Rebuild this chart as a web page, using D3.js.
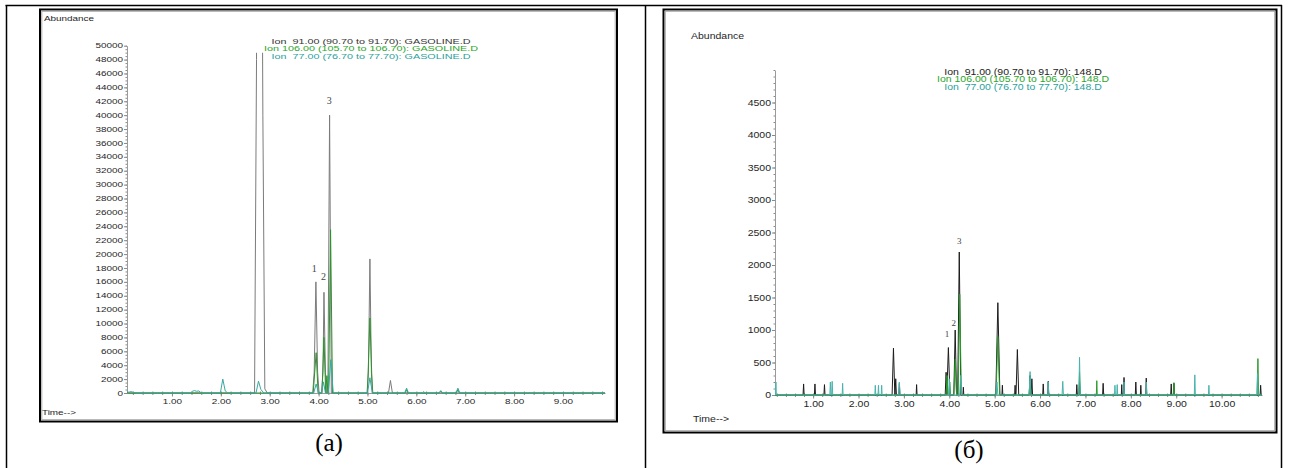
<!DOCTYPE html>
<html>
<head>
<meta charset="utf-8">
<script src="https://cdn.jsdelivr.net/npm/d3@7"></script>
<style>
  body { margin: 0; background: #fff; }
  svg { display: block; }
</style>
</head>
<body>
<svg width="1289" height="468"></svg>
<script>
// ---- data ----
// (a) GASOLINE.D, traces as [time, abundance] vertices
var leftTimeTicks = [1, 2, 3, 4, 5, 6, 7, 8, 9];
var leftAbundanceTicks = [0, 2000, 4000, 6000, 8000, 10000, 12000, 14000, 16000, 18000, 20000, 22000, 24000,
  26000, 28000, 30000, 32000, 34000, 36000, 38000, 40000, 42000, 44000, 46000, 48000, 50000];
var leftLegend = ["Ion  91.00 (90.70 to 91.70): GASOLINE.D",
  "Ion 106.00 (105.70 to 106.70): GASOLINE.D",
  "Ion  77.00 (76.70 to 77.70): GASOLINE.D"];
var leftIon91 = [
  [0.08, 0], [2.69, 0], [2.73, 48000], [2.74, 70000], [2.84, 70000], [2.86, 40000], [2.90, 600], [2.95, 0],
  [3.88, 0], [3.91, 3000], [3.945, 16000], [3.98, 3000], [4.01, 0],
  [4.06, 0], [4.09, 3000], [4.11, 14500], [4.14, 3000], [4.16, 0],
  [4.19, 0], [4.225, 40000], [4.26, 0],
  [4.99, 0], [5.02, 3000], [5.05, 19300], [5.08, 3000], [5.11, 0],
  [5.43, 0], [5.47, 1800], [5.51, 0], [9.86, 0]
];
var leftIon106 = [
  [0.08, 0], [3.89, 0], [3.95, 5800], [3.99, 0],
  [4.07, 0], [4.11, 8000], [4.145, 0], [4.17, 2500], [4.19, 0], [4.205, 0], [4.245, 23500], [4.285, 0],
  [5.00, 0], [5.05, 10800], [5.10, 0],
  [5.77, 0], [5.80, 500], [5.83, 0], [6.47, 0], [6.50, 250], [6.53, 0], [6.82, 0], [6.85, 500], [6.88, 0], [9.86, 0]
];
var leftIon77 = [
  [0.08, 350], [0.11, 100], [0.16, 200], [0.22, 80], [0.30, 0],
  [1.38, 0], [1.42, 250], [1.46, 350], [1.50, 250], [1.55, 300], [1.60, 0],
  [1.99, 0], [2.04, 2000], [2.09, 300], [2.14, 0],
  [2.72, 0], [2.77, 1700], [2.82, 500], [2.88, 0],
  [3.90, 0], [3.95, 1300], [4.00, 0], [4.06, 0], [4.10, 1600], [4.14, 0], [4.20, 0], [4.25, 4800], [4.30, 0],
  [5.00, 0], [5.05, 2200], [5.10, 0],
  [5.76, 0], [5.80, 700], [5.84, 0], [6.12, 0], [6.15, 200], [6.18, 0], [6.46, 0], [6.50, 350], [6.54, 0],
  [6.81, 0], [6.85, 700], [6.89, 0], [9.86, 0]
];
var leftPeakLabels = [["1", 3.91, 17400], ["2", 4.10, 16300], ["3", 4.22, 41600]];

// (б) 148.D, spikes as [time, abundance, half width]
var rightTimeTicks = [1, 2, 3, 4, 5, 6, 7, 8, 9, 10];
var rightAbundanceTicks = [0, 500, 1000, 1500, 2000, 2500, 3000, 3500, 4000, 4500];
var rightLegend = ["Ion  91.00 (90.70 to 91.70): 148.D",
  "Ion 106.00 (105.70 to 106.70): 148.D",
  "Ion  77.00 (76.70 to 77.70): 148.D"];
var rightIon91 = [
  [0.79, 170, 0.012], [1.04, 170, 0.012], [1.25, 160, 0.012], [2.77, 720, 0.03], [2.82, 250, 0.015],
  [2.90, 180, 0.012], [3.28, 160, 0.01], [3.93, 350, 0.02], [3.98, 730, 0.035], [4.13, 1000, 0.03],
  [4.22, 2200, 0.035], [4.31, 120, 0.01], [5.07, 1420, 0.045], [5.17, 150, 0.01], [5.45, 150, 0.01],
  [5.50, 700, 0.03], [5.78, 300, 0.02], [5.82, 250, 0.015], [6.07, 170, 0.012], [6.18, 210, 0.012],
  [6.81, 160, 0.012], [6.87, 200, 0.012], [7.39, 180, 0.012], [7.80, 160, 0.01], [7.85, 270, 0.012],
  [8.11, 200, 0.012], [8.22, 150, 0.01], [8.34, 260, 0.012], [8.89, 170, 0.012], [8.95, 180, 0.012],
  [10.86, 150, 0.012]
];
var rightIon106 = [
  [3.95, 300, 0.02], [4.01, 200, 0.015], [4.13, 550, 0.03], [4.23, 1550, 0.035], [5.07, 900, 0.04],
  [5.78, 280, 0.02], [6.87, 350, 0.015], [7.25, 220, 0.01], [8.95, 190, 0.012], [10.80, 560, 0.015]
];
var rightIon77 = [
  [0.18, 200, 0.01], [1.38, 200, 0.012], [1.42, 210, 0.012], [1.65, 180, 0.01], [2.37, 150, 0.01],
  [2.44, 150, 0.01], [2.51, 150, 0.01], [2.90, 200, 0.015], [4.00, 250, 0.015], [4.25, 300, 0.02],
  [5.05, 200, 0.02], [5.78, 360, 0.02], [6.18, 200, 0.012], [6.50, 210, 0.015], [6.87, 580, 0.015],
  [7.65, 150, 0.01], [7.70, 160, 0.01], [7.85, 200, 0.01], [8.34, 200, 0.01], [9.41, 310, 0.012],
  [9.72, 150, 0.01], [10.79, 330, 0.015]
];
var rightPeakLabels = [["1", 3.95, 900], ["2", 4.10, 1060], ["3", 4.22, 2320]];

main();

function main() {
  var svg = d3.select("svg");

  // table lines of the document
  var table = svg.append("g").attr("stroke", "#000").attr("stroke-width", 1.5);
  table.append("line").attr("x1", 5.5).attr("x2", 1282).attr("y1", 5.5).attr("y2", 5.5);
  table.append("line").attr("x1", 6.5).attr("x2", 6.5).attr("y1", 5).attr("y2", 468);
  table.append("line").attr("x1", 645.5).attr("x2", 645.5).attr("y1", 5).attr("y2", 468);
  table.append("line").attr("x1", 1281.5).attr("x2", 1281.5).attr("y1", 5).attr("y2", 468);

  drawPanel(svg, {
    frame: [40, 9.5, 577, 412],
    xDomain: [0.08, 9.86], xRange: [127, 605],
    yDomain: [0, 50000], yRange: [393, 45.7],
    clipTop: 49000,
    xTicks: leftTimeTicks, yTicks: leftAbundanceTicks,
    xMinor: 0.2, yMinor: 500,
    font: "Liberation Sans, Arial, sans-serif", fontSize: 6.6, sx: 1.5,
    abundance: [44, 21], time: [42, 415],
    legend: leftLegend, legendX: 371, legendY: 44, legendStep: 7.4, legendSize: 7.2,
    colors: ["#7b7b7b", "#2d932d", "#3aa8a2"],
    legendColors: ["#333", "#2aa52a", "#2a9f9c"],
    traces: [leftIon91, leftIon106, leftIon77],
    peakLabels: leftPeakLabels, peakSize: 10,
    caption: "(a)", captionX: 329, captionY: 451
  });

  drawPanel(svg, {
    frame: [663.5, 9.5, 613, 423],
    xDomain: [0.16, 10.89], xRange: [775, 1262],
    yDomain: [0, 5000], yRange: [395, 70],
    xTicks: rightTimeTicks, yTicks: rightAbundanceTicks,
    xMinor: 0.2, yMinor: 100,
    font: "Liberation Sans, Arial, sans-serif", fontSize: 8.4, sx: 1.25,
    abundance: [691, 39], time: [693, 422],
    legend: rightLegend, legendX: 1023, legendY: 74.5, legendStep: 7.6, legendSize: 8.4,
    colors: ["#1c1c1c", "#2a9a2a", "#48b3ac"],
    legendColors: ["#222", "#2aa52a", "#2a9f9c"],
    traces: [spikes(rightIon91), spikes(rightIon106), spikes(rightIon77)],
    peakLabels: rightPeakLabels, peakSize: 9,
    caption: "(б)", captionX: 969, captionY: 458
  });
}

// turn [time, height, half width] spikes into a baseline trace
function spikes(peaks) {
  var pts = [[0.16, 0]];
  peaks.forEach(function(p) {
    pts.push([p[0] - p[2], 0], [p[0], p[1]], [p[0] + p[2], 0]);
  });
  pts.push([10.89, 0]);
  return pts;
}

function drawPanel(svg, p) {
  var g = svg.append("g");
  var f = p.frame;
  g.append("rect").attr("x", f[0]).attr("y", f[1]).attr("width", f[2]).attr("height", f[3])
    .attr("fill", "none").attr("stroke", "#000").attr("stroke-width", 2);
  g.append("rect").attr("x", f[0] + 1.8).attr("y", f[1] + 1.8).attr("width", f[2] - 3.6).attr("height", f[3] - 3.6)
    .attr("fill", "none").attr("stroke", "#a8a8a8").attr("stroke-width", 1);

  var x = d3.scaleLinear().domain(p.xDomain).range(p.xRange);
  var y = d3.scaleLinear().domain(p.yDomain).range(p.yRange);

  function txt(sel) {
    return sel.style("font-family", p.font).style("font-size", p.fontSize + "px").attr("fill", "#262626");
  }

  // y axis
  var yMinor = d3.range(p.yDomain[0], p.yDomain[1] + 1, p.yMinor);
  g.append("g").attr("transform", "translate(" + p.xRange[0] + ",0)")
    .call(d3.axisLeft(y).tickValues(yMinor).tickSize(1.5).tickSizeOuter(0).tickFormat(""))
    .call(gray);
  var ya = g.append("g").attr("transform", "translate(" + p.xRange[0] + ",0)")
    .call(d3.axisLeft(y).tickValues(p.yTicks).tickSize(3).tickSizeOuter(0).tickFormat(d3.format("d")))
    .call(gray);
  ya.select(".domain").remove();
  ya.selectAll("text").call(txt)
    .attr("x", -4 / p.sx).attr("transform", "scale(" + p.sx + ",1)");

  // x axis
  var xMinor = d3.range(Math.ceil(p.xDomain[0] / p.xMinor) * p.xMinor, p.xDomain[1], p.xMinor);
  g.append("g").attr("transform", "translate(0," + p.yRange[0] + ")")
    .call(d3.axisBottom(x).tickValues(xMinor).tickSize(2).tickSizeOuter(0).tickFormat(""))
    .call(gray);
  g.append("g").attr("transform", "translate(0," + p.yRange[0] + ")")
    .call(d3.axisTop(x).tickValues(xMinor).tickSize(1.5).tickSizeOuter(0).tickFormat(""))
    .call(gray).select(".domain").remove();
  var xa = g.append("g").attr("transform", "translate(0," + p.yRange[0] + ")")
    .call(d3.axisBottom(x).tickValues(p.xTicks).tickSize(3.5).tickSizeOuter(0).tickFormat(d3.format(".2f")))
    .call(gray);
  xa.select(".domain").remove();
  xa.selectAll("text").call(txt).attr("y", 6).attr("x", 0)
    .attr("transform", "scale(" + p.sx + ",1)");

  // traces, clipped to the plot area
  var clipId = "clip" + Math.round(p.xRange[0]);
  var top = p.clipTop ? y(p.clipTop) : y.range()[1];
  svg.append("clipPath").attr("id", clipId).append("rect")
    .attr("x", p.xRange[0]).attr("y", top)
    .attr("width", p.xRange[1] - p.xRange[0]).attr("height", p.yRange[0] - top + 1);
  var line = d3.line().x(function(d) { return x(d[0]); }).y(function(d) { return y(d[1]); });
  var traces = g.append("g").attr("clip-path", "url(#" + clipId + ")");
  traces.selectAll("path")
    .data(p.traces)
    .enter()
    .append("path")
    .attr("d", line)
    .attr("fill", "none")
    .attr("stroke", function(d, i) { return p.colors[i]; })
    .attr("stroke-width", 1)
    .attr("stroke-linejoin", "round");

  // peak numbers
  g.selectAll(".peak")
    .data(p.peakLabels)
    .enter()
    .append("text")
    .attr("class", "peak")
    .attr("x", function(d) { return x(d[1]); })
    .attr("y", function(d) { return y(d[2]); })
    .attr("text-anchor", "middle")
    .style("font-family", "Liberation Serif, Times New Roman, serif")
    .style("font-size", p.peakSize + "px")
    .attr("fill", "#444")
    .text(function(d) { return d[0]; });

  // labels
  g.append("text").call(txt)
    .attr("transform", "translate(" + p.abundance[0] + "," + p.abundance[1] + ") scale(" + p.sx + ",1)")
    .text("Abundance");
  g.append("text").call(txt)
    .attr("transform", "translate(" + p.time[0] + "," + p.time[1] + ") scale(" + p.sx + ",1)")
    .text("Time-->");

  g.selectAll(".legend")
    .data(p.legend)
    .enter()
    .append("text")
    .attr("class", "legend")
    .attr("transform", function(d, i) {
      return "translate(" + p.legendX + "," + (p.legendY + i * p.legendStep) + ") scale(" + p.sx + ",1)";
    })
    .attr("text-anchor", "middle")
    .style("white-space", "pre")
    .style("font-family", p.font)
    .style("font-size", p.legendSize + "px")
    .attr("fill", function(d, i) { return p.legendColors[i]; })
    .text(function(d) { return d; });

  svg.append("text")
    .attr("x", p.captionX).attr("y", p.captionY)
    .attr("text-anchor", "middle")
    .style("font-family", "Liberation Serif, Times New Roman, serif")
    .style("font-size", "25px")
    .attr("fill", "#000")
    .text(p.caption);
}

function gray(sel) {
  sel.select(".domain").attr("stroke", "#9a9a9a");
  sel.selectAll(".tick line").attr("stroke", "#8a8a8a");
}
</script>
</body>
</html>
